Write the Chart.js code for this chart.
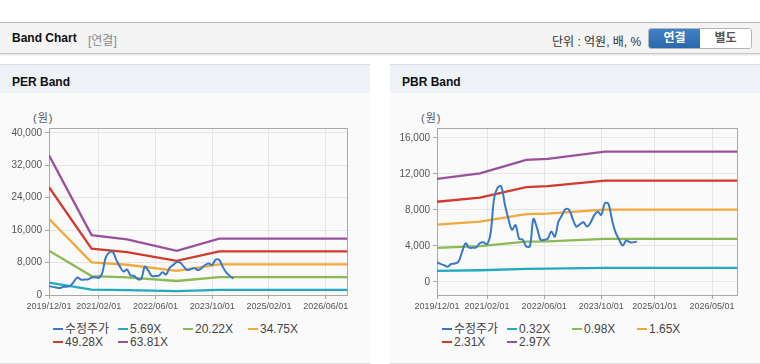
<!DOCTYPE html>
<html>
<head>
<meta charset="utf-8">
<script src="https://cdn.jsdelivr.net/npm/chart.js@4.4.1/dist/chart.umd.min.js"></script>
<style>
  body { margin: 0; width: 760px; height: 364px; background: #fff; position: relative; overflow: hidden;
         font-family: "Liberation Sans", Arial, "Noto Sans CJK KR", sans-serif; }
  .head { position: absolute; left: 0; top: 22px; width: 760px; height: 30px; background: #f4f4f4;
          border-top: 1px solid #b8b8b8; border-bottom: 1px solid #c8c8c8; box-shadow: 0 1px 2px rgba(0,0,0,0.12); }
  .head .t { position: absolute; left: 12px; top: 8px; font-size: 12px; font-weight: bold; color: #111; }
  .head .s { position: absolute; left: 88px; top: 8px; font-size: 12px; color: #8a8a8a; }
  .head .u { position: absolute; left: 552px; top: 9px; font-size: 12px; color: #333; }
  .btns { position: absolute; left: 648px; top: 5px; width: 102px; height: 19px; border: 1px solid #b5b5b5; border-radius: 3px; overflow: hidden; }
  .btns div { position: absolute; top: 0; width: 51px; height: 19px; line-height: 19px; text-align: center; font-size: 12px; font-weight: bold; }
  .btns .on { left: 0; background: linear-gradient(#3f82c6, #2b68ab); color: #fff; }
  .btns .off { left: 51px; background: #fff; color: #555; }
  .panel { position: absolute; top: 64px; width: 370px; height: 298px; background: #fafafa;
           border-top: 1px solid #dcdcdc; border-bottom: 1px solid #dcdcdc; }
  .panel .ttl { height: 28px; background: #eef1f6; font-size: 12px; font-weight: bold; color: #111; padding: 10px 0 0 12px; box-sizing: border-box; }
  .unit { position: absolute; font-size: 11px; line-height: 12px; color: #555; top: 112px; letter-spacing: 1px; }
  canvas { position: absolute; top: 100px; }
  .legend { position: absolute; top: 323px; width: 300px; font-size: 12px; color: #444; }
  .legend .it { position: absolute; white-space: nowrap; line-height: 13px; height: 13px; }
  .legend .mk { display: inline-block; width: 10px; height: 2px; vertical-align: middle; margin-right: 2px; position: relative; top: -1px; }
</style>
</head>
<body>
<div class="head">
  <div class="t">Band Chart</div><div class="s">[연결]</div>
  <div class="u">단위 : 억원, 배, %</div>
  <div class="btns"><div class="on">연결</div><div class="off">별도</div></div>
</div>
<div class="panel" style="left:0"><div class="ttl">PER Band</div></div>
<div class="panel" style="left:390px"><div class="ttl">PBR Band</div></div>
<div class="unit" style="left:33px">(원)</div>
<div class="unit" style="left:421px">(원)</div>
<canvas id="perChart" width="370" height="220" style="left:0"></canvas>
<canvas id="pbrChart" width="370" height="220" style="left:390px"></canvas>
<div class="legend" id="perLegend" style="left:53px"></div>
<div class="legend" id="pbrLegend" style="left:442px"></div>
<script>
// month index 0 = 2019/12
const priceValues = [2200, 2000, 1850, 1700, 2000, 2050, 2250, 3300, 4300, 3800, 3800, 3850, 4300, 4400, 4200,
  5400, 9300, 10500, 10600, 8600, 7000, 5800, 6300, 4800, 4700, 3950, 3950, 7000, 6000, 4700, 4670, 4800,
  5600, 5040, 6700, 7400, 8100, 8000, 7000, 6150, 6400, 6630, 6150, 6600, 7400, 7800, 7440, 8740, 8670,
  6900, 5500, 4700, 4040, 4600, 4400, 4400, 4480];
const perPriceCount = 53;

const perBandMonths = [0, 12, 22, 36, 48, 84];
const per569 = [3070, 1320, 1220, 970, 1240, 1240];
const per2022 = [10920, 4680, 4340, 3450, 4410, 4410];
const per3475 = [18770, 8040, 7460, 5940, 7570, 7570];
const per4928 = [26610, 11410, 10580, 8420, 10740, 10740];
const per6381 = [34460, 14770, 13700, 10900, 13900, 13900];

const pbrBandMonths = [0, 12, 25, 31, 47, 84];
const pbr032 = [1230, 1300, 1460, 1470, 1560, 1560];
const pbr098 = [3780, 3980, 4470, 4510, 4780, 4780];
const pbr165 = [6360, 6690, 7530, 7600, 8040, 8040];
const pbr231 = [8910, 9370, 10540, 10640, 11260, 11260];
const pbr297 = [11450, 12050, 13550, 13680, 14480, 14480];

const perTickMonths = [0, 14, 30, 46, 62, 78];
const perTickLabels = ['2019/12/01', '2021/02/01', '2022/06/01', '2023/10/01', '2025/02/01', '2026/06/01'];
const pbrTickMonths = [0, 14, 30, 46, 61, 77];
const pbrTickLabels = ['2019/12/01', '2021/02/01', '2022/06/01', '2023/10/01', '2025/01/01', '2026/05/01'];
const perYTicks = [0, 8000, 16000, 24000, 32000, 40000];
const pbrYTicks = [0, 4000, 8000, 12000, 16000];

const colors = ['#3878c5', '#22aabf', '#8cba52', '#f3a83b', '#d23a2e', '#995299'];

function pts(xs, ys) { return ys.map((v, i) => ({ x: xs[i], y: v })); }

function datasets(labels, price, months, bands) {
  const ds = [{
    label: labels[0], data: price.map((v, i) => ({ x: i, y: v })),
    borderColor: colors[0], borderWidth: 2, tension: 0.35
  }];
  bands.forEach((b, i) => ds.push({
    label: labels[i + 1], data: pts(months, b), borderColor: colors[i + 1], borderWidth: 2.3, tension: 0
  }));
  return ds;
}

const boxBorder = {
  id: 'boxBorder',
  beforeDatasetsDraw(chart) {
    const a = chart.chartArea, c = chart.ctx;
    c.save(); c.strokeStyle = '#a8a8a8'; c.lineWidth = 1;
    c.strokeRect(Math.round(a.left) + 0.5, Math.round(a.top) + 0.5, Math.round(a.right - a.left), Math.round(a.bottom - a.top));
    c.restore();
  }
};

function makeChart(id, ds, yMin, yMax, yTicks, tickMonths, tickLabels, yWidth) {
  return new Chart(document.getElementById(id), {
    type: 'line',
    data: { datasets: ds },
    options: {
      responsive: false, animation: false, devicePixelRatio: 1,
      elements: { point: { radius: 0 } },
      layout: { padding: { left: 0, top: 28, right: 23, bottom: 0 } },
      plugins: { legend: { display: false }, tooltip: { enabled: false } },
      scales: {
        x: {
          type: 'linear', min: 0, max: 84,
          afterBuildTicks: ax => { ax.ticks = tickMonths.map(v => ({ value: v })); },
          afterFit: ax => { ax.height = 25; },
          grid: { color: '#e6e6e6', tickColor: '#a8a8a8', tickLength: 4 },
          border: { color: '#a8a8a8' },
          ticks: { autoSkip: false, maxRotation: 0, padding: 2, color: '#555',
                   font: { size: 9, family: '"Liberation Sans", Arial' },
                   callback: v => tickLabels[tickMonths.indexOf(v)] }
        },
        y: {
          min: yMin, max: yMax,
          afterBuildTicks: ax => { ax.ticks = yTicks.map(v => ({ value: v })); },
          afterFit: ax => { ax.width = yWidth; },
          grid: { color: '#e6e6e6', tickColor: '#a8a8a8', tickLength: 4 },
          border: { color: '#a8a8a8' },
          ticks: { padding: 3, color: '#555', font: { size: 10, family: '"Liberation Sans", Arial' },
                   callback: v => v.toLocaleString('en-US') }
        }
      }
    },
    plugins: [boxBorder]
  });
}

const perLabels = ['수정주가', '5.69X', '20.22X', '34.75X', '49.28X', '63.81X'];
const pbrLabels = ['수정주가', '0.32X', '0.98X', '1.65X', '2.31X', '2.97X'];

const perChart = makeChart('perChart',
  datasets(perLabels, priceValues.slice(0, perPriceCount), perBandMonths, [per569, per2022, per3475, per4928, per6381]),
  0, 41200, perYTicks, perTickMonths, perTickLabels, 49);
const pbrChart = makeChart('pbrChart',
  datasets(pbrLabels, priceValues, pbrBandMonths, [pbr032, pbr098, pbr165, pbr231, pbr297]),
  -1450, 17100, pbrYTicks, pbrTickMonths, pbrTickLabels, 47);

function legend(chart, id) {
  const el = document.getElementById(id);
  chart.data.datasets.forEach((d, i) => {
    const it = document.createElement('div');
    it.className = 'it';
    it.style.left = (i % 4) * 65 + 'px';
    it.style.top = Math.floor(i / 4) * 13 + 'px';
    it.innerHTML = '<span class="mk" style="background:' + d.borderColor + '"></span>' + d.label;
    el.appendChild(it);
  });
}
legend(perChart, 'perLegend');
legend(pbrChart, 'pbrLegend');
</script>
</body>
</html>
